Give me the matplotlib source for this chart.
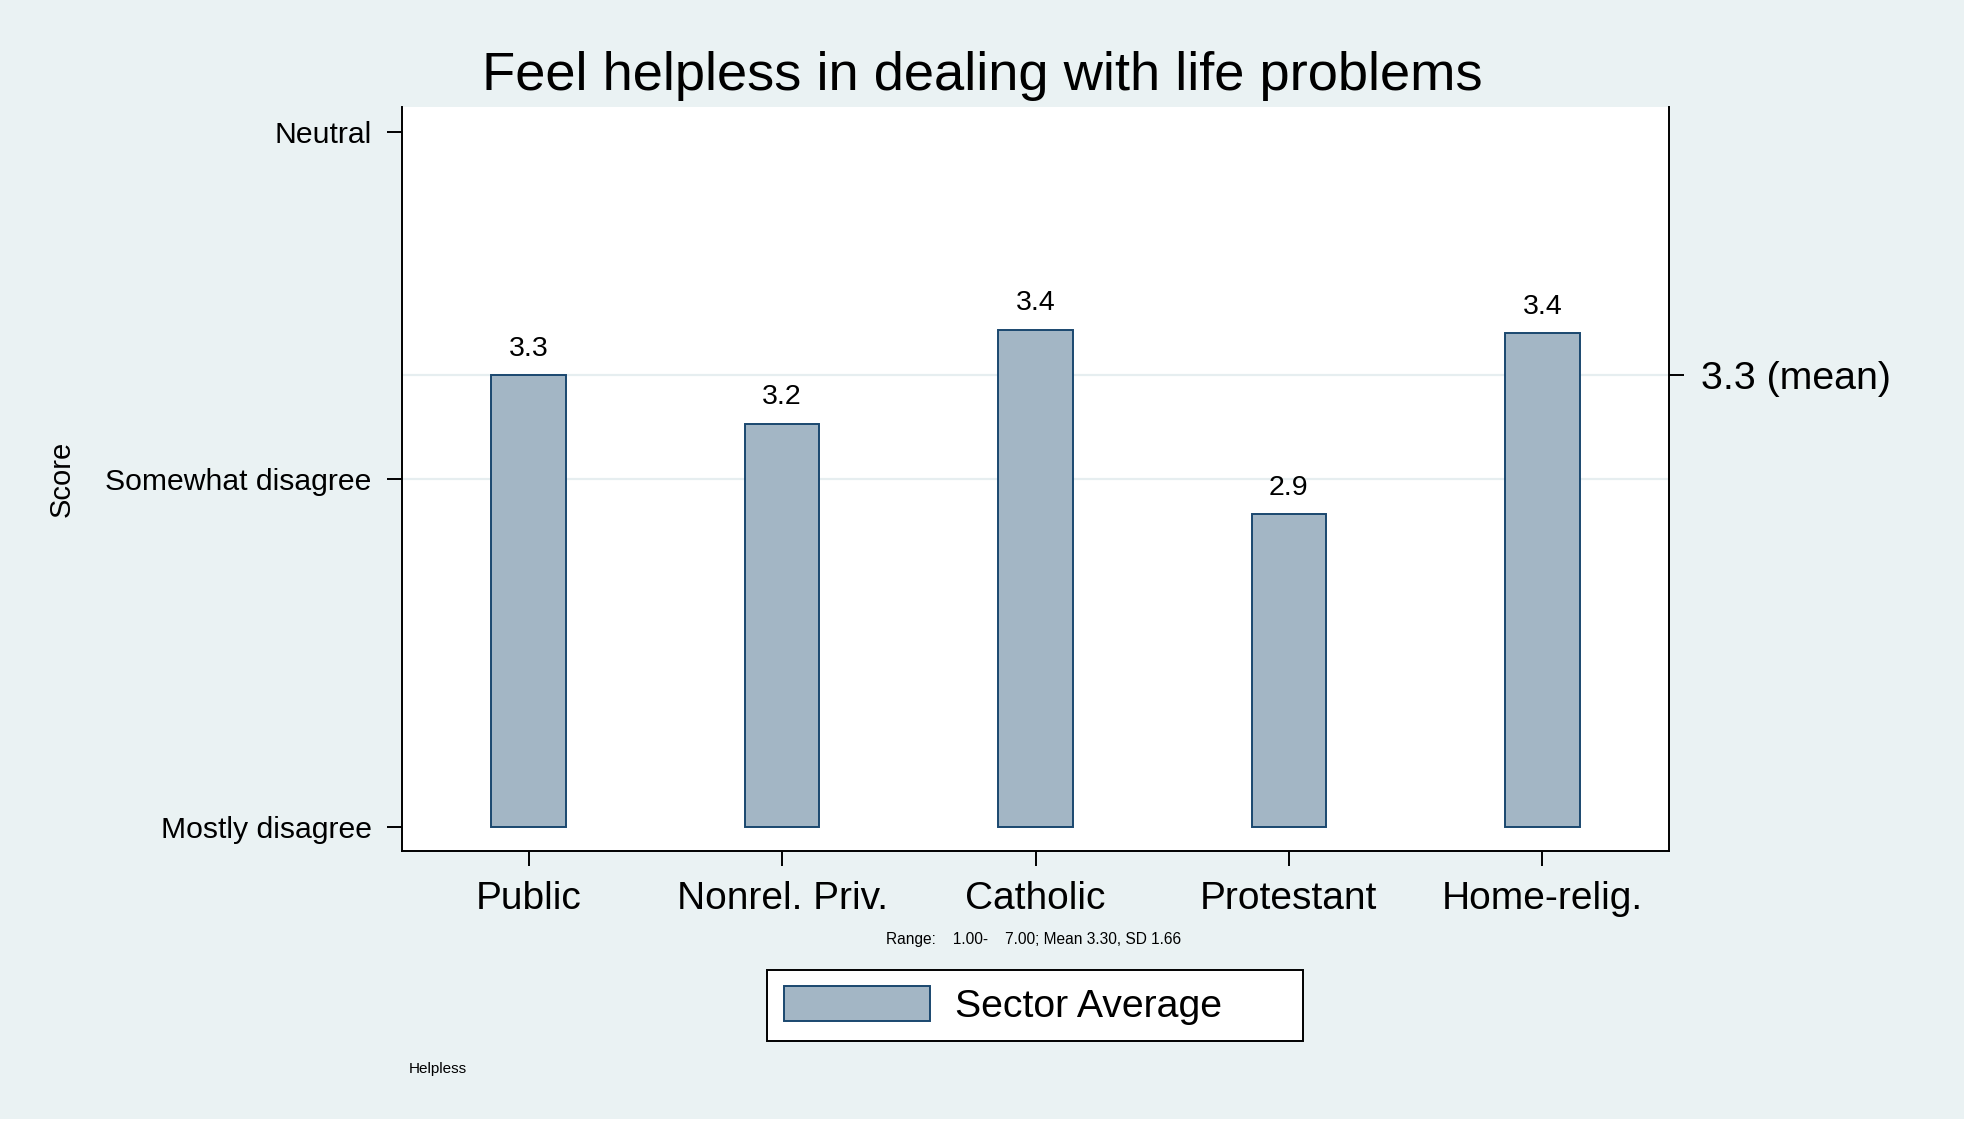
import matplotlib
matplotlib.use('Agg')
import matplotlib.pyplot as plt
from matplotlib.patches import Rectangle
import numpy as np

plt.rcParams['font.family'] = ['Liberation Sans', 'DejaVu Sans']

# data
sectors = ['Public', 'Nonrel. Priv.', 'Catholic', 'Protestant', 'Home-relig.']
averages = [3.30, 3.16, 3.43, 2.90, 3.42]
score_ticks = [2, 3, 4]
score_labels = ['Mostly disagree', 'Somewhat disagree', 'Neutral']
overall_mean = 3.30
overall_sd = 1.66
score_range = (1.00, 7.00)
title = 'Feel helpless in dealing with life problems'
legend_label = 'Sector Average'
note = 'Helpless'

W, H = 1965, 1125
BG = '#EAF2F3'
FILL = '#A3B6C5'
NAVY = '#1A476F'
LW = 1.4

fig = plt.figure(figsize=(W / 100, H / 100), dpi=100)
fig.patch.set_facecolor(BG)
# thin white strip along the bottom edge, as in the exported original
fig.add_artist(Rectangle((0, 0), 1, 6 / H, transform=fig.transFigure,
                         facecolor='white', edgecolor='none'))

ax = fig.add_axes([402 / W, 1 - 851 / H, 1267 / W, 744 / H])
ax.set_facecolor('white')

x = np.arange(len(sectors))
base = score_ticks[0]
bars = ax.bar(x, np.array(averages) - base, bottom=base, width=0.294,
              color=FILL, edgecolor=NAVY, linewidth=LW, zorder=3)

for xi, v in zip(x, averages):
    ax.annotate(f'{v:.1f}', (xi, v), xytext=(0, 14), textcoords='offset points',
                ha='center', va='baseline', fontsize=20.5)

for g in (3, overall_mean):
    ax.axhline(g, color='#E6EEF0', linewidth=1.6, zorder=1)

ax.set_xlim(-0.5, 4.5)
ax.set_ylim(1.931, 4.071)
ax.set_xticks(x, sectors, fontsize=28)
ax.set_yticks(score_ticks, score_labels, fontsize=21.7)
ax.tick_params(axis='x', length=10.8, width=LW, pad=10.5)
ax.tick_params(axis='y', length=10.8, width=LW, pad=11)

for side in ('top', 'right'):
    ax.spines[side].set_visible(False)
for side in ('left', 'bottom'):
    ax.spines[side].set_linewidth(LW)

ax.set_ylabel('Score', fontsize=21, va='center')
ax.yaxis.set_label_coords((62 - 402) / 1267, 0.5)

ax2 = ax.twinx()
ax2.set_ylim(ax.get_ylim())
ax2.set_yticks([overall_mean], [f'{overall_mean:.1f} (mean)'], fontsize=28.3)
ax2.tick_params(axis='y', length=10.8, width=LW, pad=12)
for side in ('top', 'left', 'bottom'):
    ax2.spines[side].set_visible(False)
ax2.spines['right'].set_linewidth(LW)

fig.text(0.5, 1 - 90 / H, title, ha='center', va='baseline', fontsize=39.2)

range_txt = (f'Range: {score_range[0]:7.2f}- {score_range[1]:7.2f}; '
             f'Mean {overall_mean:.2f}, SD {overall_sd:.2f}')
fig.text(1034 / W, 1 - 944 / H, range_txt, ha='center', va='baseline', fontsize=11.2)
fig.text(409 / W, 1 - 1073 / H, note, ha='left', va='baseline', fontsize=11)

leg = fig.legend(handles=[bars], labels=[legend_label], loc='center',
                 bbox_to_anchor=(767 / W, 1 - 1041 / H, 536 / W, 71 / H),
                 mode='expand', fontsize=28.3, handlelength=3.73, handleheight=0.98,
                 handletextpad=0.64, borderpad=0.42, borderaxespad=0,
                 frameon=True, fancybox=False, framealpha=1)
leg.get_frame().set_edgecolor('black')
leg.get_frame().set_linewidth(LW)

fig.savefig('out.png', dpi=100, facecolor=fig.get_facecolor())
